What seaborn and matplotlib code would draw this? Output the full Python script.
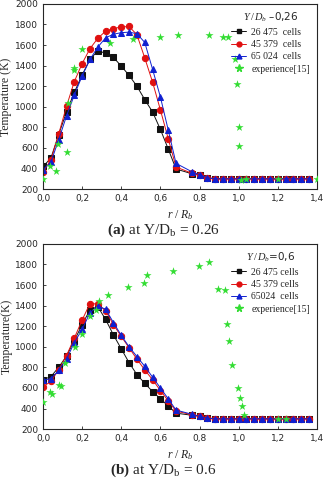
import numpy as np
import pandas as pd
import matplotlib
matplotlib.use('Agg')
import matplotlib.pyplot as plt
import seaborn as sns
from matplotlib.lines import Line2D
from matplotlib.ticker import FuncFormatter, MultipleLocator

# r / R_b positions of the simulation markers
r_sim = [0.0, 0.04, 0.08, 0.12, 0.16, 0.20, 0.24, 0.28, 0.32, 0.36, 0.40, 0.44, 0.48,
         0.52, 0.56, 0.60, 0.64, 0.68, 0.76, 0.80, 0.84, 0.88, 0.92, 0.96, 1.00, 1.04,
         1.08, 1.12, 1.16, 1.20, 1.24, 1.28, 1.32, 1.36]
tail = [300] * 13

# (a) Y/Db = 0.26
a_26475 = [420, 500, 730, 950, 1140, 1310, 1460, 1545, 1520, 1480, 1395, 1305, 1200,
           1070, 950, 780, 590, 395, 350, 335, 310] + tail
a_45379 = [370, 480, 735, 1005, 1245, 1420, 1565, 1665, 1735, 1760, 1775, 1780, 1700,
           1475, 1240, 970, 690, 415, 355, 335, 310] + tail
a_65024 = [390, 460, 680, 910, 1115, 1300, 1460, 1580, 1670, 1705, 1720, 1725, 1710,
           1625, 1365, 1095, 775, 450, 370, 340, 310] + tail
a_exp_r = [0.0, 0.034, 0.068, 0.077, 0.12, 0.13, 0.16, 0.16, 0.2, 0.34, 0.46, 0.60,
           0.69, 0.85, 0.92, 0.945, 0.98, 0.99, 1.0, 1.0, 1.01, 1.04, 1.2, 1.4]
a_exp_t = [300, 420, 380, 640, 560, 1040, 1360, 1375, 1560, 1620, 1660, 1680,
           1700, 1700, 1680, 1675, 1460, 1220, 800, 620, 290, 300, 300, 300]

# (b) Y/Db = 0.6
b_26475 = [680, 710, 800, 910, 1060, 1215, 1360, 1390, 1265, 1115, 980, 845, 730,
           645, 565, 495, 425, 355, 335, 325, 310] + tail
b_45379 = [610, 665, 775, 915, 1085, 1260, 1420, 1415, 1350, 1215, 1100, 990, 880,
           775, 680, 575, 475, 375, 340, 325, 305] + tail
b_65024 = [675, 690, 770, 880, 1040, 1170, 1330, 1395, 1365, 1235, 1110, 1000, 905,
           810, 705, 600, 495, 385, 345, 325, 305] + tail
b_exp_r = [0.0, 0.034, 0.046, 0.082, 0.094, 0.113, 0.164, 0.198, 0.239, 0.273, 0.287,
           0.333, 0.435, 0.516, 0.534, 0.666, 0.799, 0.849, 0.896, 0.93, 0.942, 0.953,
           0.965, 0.995, 1.007, 1.019, 1.028, 1.2, 1.24]
b_exp_t = [460, 560, 545, 632, 620, 840, 1000, 1125, 1300, 1360, 1440, 1500, 1580,
           1620, 1700, 1740, 1780, 1820, 1560, 1550, 1220, 1060, 820, 600, 500, 420,
           340, 300, 300]

sns.set_style("ticks")
plt.rcParams['font.family'] = ['DejaVu Sans']
plt.rcParams['mathtext.fontset'] = 'custom'
plt.rcParams['mathtext.rm'] = 'Liberation Serif'
plt.rcParams['mathtext.it'] = 'Liberation Serif:italic'
plt.rcParams['mathtext.bf'] = 'Liberation Serif:bold'

serif = 'Liberation Serif'
c_black, c_red, c_blue, c_green = '#111111', '#e01010', '#1020d0', '#33dd33'

fig = plt.figure(figsize=(3.26, 4.8), dpi=100)
ax_a = fig.add_axes([0.132, 0.606, 0.840, 0.386])
ax_b = fig.add_axes([0.132, 0.106, 0.840, 0.386])

panels = [
    (ax_a, a_26475, a_45379, a_65024, a_exp_r, a_exp_t,
     r'$Y\,/\,D_b$ –0,26', ['26 475  cells', '45 379  cells', '65 024  cells', 'experience[15]'],
     'Temperature (K)', r'$\mathbf{(a)}$ at Y/D$_\mathrm{b}$ = 0.26', 0.521),
    (ax_b, b_26475, b_45379, b_65024, b_exp_r, b_exp_t,
     r'$Y\,/\,D_b$=0,6', ['26 475 cells', '45 379 cells', '65024  cells', 'experience[15]'],
     'Temperature(K)', r'$\mathbf{(b)}$ at Y/D$_\mathrm{b}$ = 0.6', 0.021),
]

for ax, s1, s2, s3, er, et, title, labels, ylab, caption, cap_y in panels:
    for vals, col, mk in [(s1, c_black, 's'), (s2, c_red, 'o'), (s3, c_blue, '^')]:
        sns.lineplot(x=r_sim, y=vals, ax=ax, color=col, marker=mk, markersize=4.5,
                     markeredgecolor=col, linewidth=0.7, estimator=None, sort=False)
    sns.scatterplot(x=er, y=et, ax=ax, color=c_green, marker='*', s=38,
                    edgecolor=c_green, linewidth=0, zorder=5)

    ax.set_xlim(0, 1.4)
    ax.set_ylim(200, 2000)
    ax.xaxis.set_major_locator(MultipleLocator(0.2))
    ax.yaxis.set_major_locator(MultipleLocator(200))
    ax.xaxis.set_major_formatter(FuncFormatter(lambda v, p: f'{v:.1f}'.replace('.', ',')))
    ax.tick_params(direction='in', labelsize=6.5, length=2.5, width=0.6,
                   top=False, right=False)
    for sp in ax.spines.values():
        sp.set_visible(True)
        sp.set_linewidth(0.8)
    ax.set_xlabel(r'$r\ /\ R_b$', fontsize=8.5, labelpad=4)
    ax.set_ylabel(ylab, fontsize=8.5, family=serif, labelpad=2)

    handles = [
        Line2D([], [], color=c_black, marker='s', markersize=3.5, linewidth=0.7),
        Line2D([], [], color=c_red, marker='o', markersize=3.5, linewidth=0.7),
        Line2D([], [], color=c_blue, marker='^', markersize=3.5, linewidth=0.7),
        Line2D([], [], color=c_green, marker='*', markersize=5.5, linewidth=0),
    ]
    leg = ax.legend(handles, labels, title=title, loc='upper right', frameon=False,
                    prop={'family': serif, 'size': 7}, title_fontsize=7.5,
                    handlelength=1.6, handletextpad=0.5, labelspacing=0.35,
                    borderaxespad=0.3)
    fig.text(0.5, cap_y, caption, ha='center', va='center', fontsize=11, family=serif)

plt.savefig('out.png', dpi=100)
